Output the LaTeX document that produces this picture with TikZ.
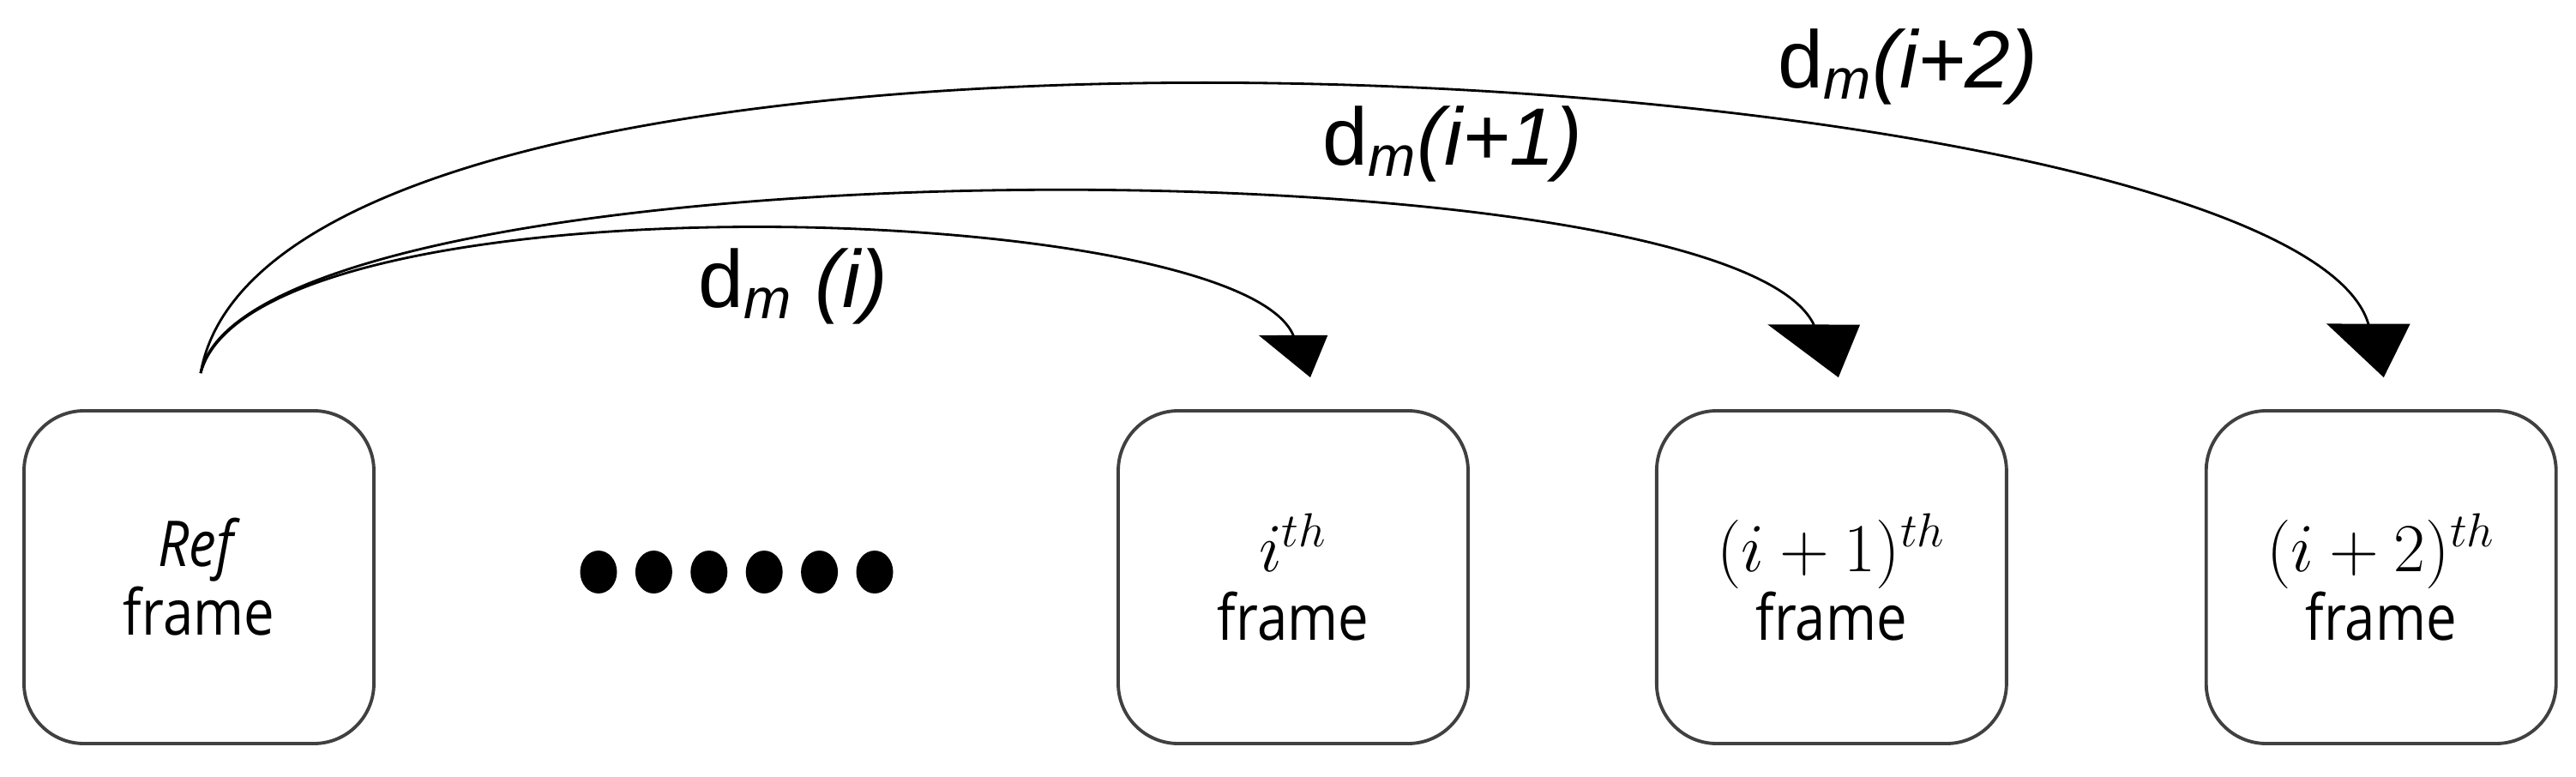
\documentclass[tikz,border=0pt]{standalone}
\usepackage{graphicx}
\usepackage[no-math]{fontspec}
\setmainfont{Open Sans}[FakeStretch=0.86]
\newfontfamily\lblfont{Liberation Sans}
\usepackage{tikz}
\usetikzlibrary{positioning,arrows.meta,calc}
\newcommand{\frameno}[1]{\scalebox{1.1}{$#1^{th}$}}
\tikzset{
  framebox/.style={draw=black!75, line width=1.1pt, rounded corners=0.7cm,
                   minimum width=4.08cm, minimum height=3.88cm, inner sep=0pt,
                   align=center, font=\fontsize{21}{22.8}\selectfont},
  dmlbl/.style={font=\lblfont\fontsize{27}{30}\selectfont, inner sep=0pt},
  jump/.style={-{Triangle[length=6.8mm, width=9.7mm, slant=0.47, quick]}, line width=0.8pt},
  shortjump/.style={jump, -{Triangle[length=5.3mm, width=7.4mm, slant=0.4, quick]}},
  farjump/.style={jump, -{Triangle[length=6.5mm, width=9.3mm, slant=0.29, quick]}},
  dot/.style={fill=black}
}
\begin{document}
\begin{tikzpicture}
\useasboundingbox (0,0) rectangle (30.04,9.05);
% frames
\node[framebox] (ref) at (2.32,2.32) {\textit{Ref}\\frame};
\node[framebox] (fi) at (15.08,2.32) {\frameno{i}\\frame};
\node[framebox, right=2.16cm of fi] (fi1) {\frameno{(i+1)}\\frame};
\node[framebox, right=2.29cm of fi1] (fi2) {\frameno{(i+2)}\\frame};
% skipped frames
\foreach \k in {0,...,5}
  \fill[dot] ({6.98+\k*0.644},2.38) ellipse (0.215 and 0.25);
% arrow ends
\coordinate (src) at ($(ref.north)+(0.02,0.42)$);
\coordinate (tip0) at ($(fi.north)+(0.20,0.37)$);
\coordinate (tip1) at ($(fi1.north)+(0.08,0.37)$);
\coordinate (tip2) at ($(fi2.north)+(0.03,0.37)$);
\draw[shortjump] (src) .. controls +(75:2.45) and +(112:2.25) .. (tip0);
\draw[jump] (src) .. controls +(78:2.8) and +(115:3.1) .. (tip1);
\draw[farjump] (src) .. controls +(80:5.2) and +(106:3.9) .. (tip2);
% distances
\node[dmlbl] (d0) at (9.25,5.71) {d\textsubscript{\textit{m}} \textit{(i)}};
\node[dmlbl] (d1) at (16.94,7.37) {d\textsubscript{\textit{m}}\textit{(i+1)}};
\node[dmlbl] (d2) at (22.25,8.27) {d\textsubscript{\textit{m}}\textit{(i+2)}};
\end{tikzpicture}
\end{document}
